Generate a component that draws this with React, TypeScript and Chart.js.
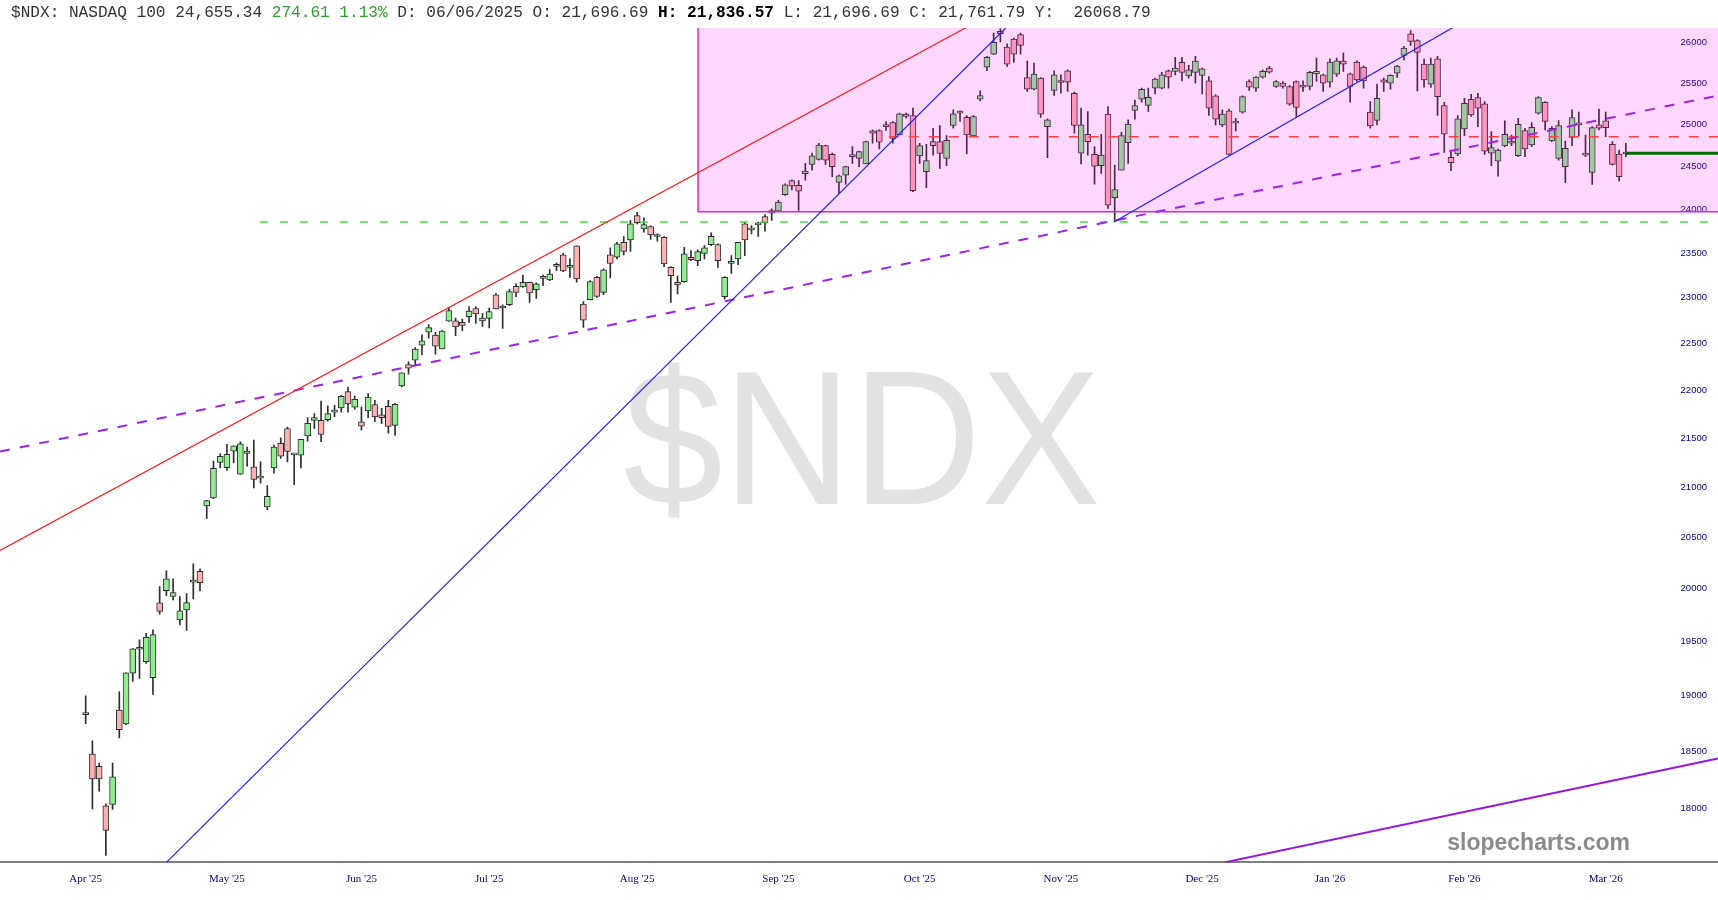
import React, { useEffect, useRef } from "react";
import { Chart, registerables } from "chart.js";

Chart.register(...registerables);

// ---------- Candle data (daily, index 0 = first bar on the chart) ----------
const open = [
  18826, 18471, 18364, 18019, 18031, 18866, 18742, 19205, 19426, 19310,
  19162, 19865, 19980, 19925, 19702, 19798, 20063, 20167, 20811, 20891,
  21251, 21199, 21367, 21132, 21343, 21206, 21091, 20801, 21195, 21446,
  21601, 21329, 21326, 21524, 21685, 21685, 21692, 21772, 21815, 21987,
  21822, 21671, 21783, 21850, 21744, 21832, 21633, 22047, 22274, 22321,
  22483, 22625, 22593, 22443, 22745, 22748, 22730, 22792, 22883, 22748,
  22773, 23035, 22888, 22924, 23128, 23121, 23173, 23091, 23216, 23198,
  23351, 23480, 23340, 23582, 22932, 22979, 23228, 23061, 23480, 23453,
  23623, 23650, 23928, 23776, 23802, 23688, 23680, 23340, 23173, 23180,
  23453, 23415, 23498, 23597, 23597, 23012, 23384, 23435, 23833, 23764,
  23822, 23917, 23955, 23978, 24169, 24335, 24277, 24414, 24524, 24583,
  24746, 24643, 24312, 24397, 24615, 24595, 24528, 24922, 24926, 24973,
  25022, 24873, 25123, 25107, 24624, 24438, 24794, 24794, 24595, 24986,
  25135, 25086, 24861, 25304, 25697, 25859, 26143, 25946, 26046, 26101,
  25570, 25426, 25561, 24973, 25411, 25508, 25652, 25377, 24656, 24882,
  24643, 24509, 25123, 24134, 24457, 24782, 25167, 25304, 25228, 25439,
  25439, 25652, 25644, 25755, 25590, 25632, 25595, 25528, 25344, 24993,
  25163, 25014, 25147, 25520, 25439, 25574, 25685, 25459, 25500, 25459,
  25520, 25467, 25459, 25615, 25602, 25512, 25611, 25771, 25615, 25759,
  25697, 25147, 25046, 25540, 25500, 25624, 25842, 26113, 26026, 25734,
  25488, 25800, 25228, 24607, 24647, 24945, 25304, 25324, 25247, 24656,
  24563, 24741, 24774, 24628, 24926, 24753, 25135, 25267, 24801, 24595,
  24497, 24845, 24993, 24656, 24430, 24993, 25042, 24762, 24647, 24647,
];
const high = [
  18997, 18589, 18393, 18036, 18393, 19034, 19208, 19432, 19514, 19576,
  19608, 20021, 20173, 20096, 19925, 19954, 20241, 20193, 20868, 21264,
  21339, 21436, 21421, 21463, 21408, 21481, 21257, 21016, 21429, 21504,
  21615, 21339, 21488, 21713, 21755, 21888, 21836, 21843, 21948, 22036,
  21941, 21825, 21965, 21895, 21811, 21895, 21864, 22185, 22303, 22457,
  22596, 22708, 22621, 22642, 22888, 22778, 22767, 22905, 22905, 22828,
  22888, 23050, 22924, 23094, 23155, 23254, 23173, 23166, 23254, 23314,
  23389, 23498, 23435, 23582, 22960, 23191, 23239, 23322, 23559, 23623,
  23688, 23871, 23966, 23902, 23810, 23719, 23688, 23348, 23246, 23566,
  23528, 23536, 23585, 23730, 23605, 23236, 23472, 23623, 23852, 23813,
  23852, 23940, 24005, 24103, 24297, 24343, 24335, 24536, 24656, 24774,
  24753, 24656, 24397, 24504, 24734, 24681, 24801, 24933, 24933, 25034,
  25034, 25135, 25135, 25195, 24774, 24762, 24953, 24986, 24865, 25175,
  25163, 25107, 25107, 25405, 25830, 26122, 26176, 25988, 26059, 26122,
  25771, 25747, 25570, 25066, 25652, 25602, 25664, 25390, 25195, 25155,
  24734, 24882, 25215, 24516, 24906, 25054, 25295, 25439, 25439, 25561,
  25632, 25664, 25818, 25818, 25718, 25830, 25685, 25582, 25357, 25175,
  25183, 25074, 25344, 25540, 25582, 25664, 25706, 25533, 25520, 25471,
  25528, 25528, 25644, 25809, 25611, 25800, 25809, 25872, 25624, 25775,
  25713, 25276, 25488, 25561, 25602, 25718, 25956, 26151, 26039, 25797,
  25809, 25830, 25267, 24666, 25107, 25316, 25365, 25377, 25276, 24914,
  24706, 25042, 24873, 25074, 24953, 25022, 25336, 25276, 24973, 25046,
  24801, 25175, 25147, 24873, 24973, 25183, 25147, 24794, 24694, 24774,
];
const low = [
  18745, 17992, 18145, 17593, 17987, 18616, 18733, 19128, 19156, 19295,
  19009, 19756, 19934, 19893, 19655, 19602, 19903, 19980, 20688, 20885,
  21195, 21169, 21247, 21129, 21213, 20992, 21040, 20775, 21141, 21292,
  21257, 21026, 21195, 21470, 21601, 21463, 21678, 21723, 21772, 21772,
  21801, 21584, 21713, 21671, 21650, 21553, 21529, 22039, 22171, 22260,
  22378, 22560, 22386, 22443, 22741, 22585, 22639, 22730, 22719, 22686,
  22669, 22877, 22664, 22913, 23012, 23117, 22949, 22993, 23136, 23191,
  23303, 23291, 23228, 23173, 22675, 22976, 23004, 23035, 23221, 23435,
  23480, 23520, 23833, 23737, 23654, 23634, 23348, 22949, 23043, 23173,
  23415, 23359, 23435, 23585, 23340, 22987, 23272, 23370, 23472, 23719,
  23688, 23748, 23871, 23971, 24161, 24226, 23986, 24339, 24457, 24575,
  24524, 24379, 24184, 24289, 24536, 24497, 24528, 24774, 24706, 24926,
  24774, 24873, 25074, 24203, 24536, 24250, 24634, 24477, 24509, 24953,
  25034, 24647, 24854, 25283, 25652, 25851, 26009, 25706, 25755, 25859,
  25398, 25417, 25083, 24604, 25349, 25377, 25398, 24894, 24528, 24634,
  24292, 24418, 24009, 23855, 24457, 24536, 25062, 25267, 25155, 25369,
  25430, 25439, 25602, 25528, 25561, 25500, 25369, 25107, 24993, 24973,
  24634, 24922, 25135, 25411, 25398, 25561, 25624, 25447, 25439, 25228,
  25095, 25398, 25417, 25520, 25398, 25451, 25582, 25644, 25267, 25520,
  25439, 24953, 24993, 25398, 25426, 25570, 25787, 25968, 25405, 25451,
  25447, 25107, 24666, 24450, 24628, 24865, 25095, 24973, 24643, 24509,
  24386, 24734, 24746, 24615, 24615, 24734, 25123, 24933, 24794, 24575,
  24312, 24746, 24861, 24615, 24289, 24933, 24854, 24516, 24327, 24615,
];
const close = [
  18826, 18252, 18252, 17806, 18272, 18691, 19208, 19430, 19426, 19539,
  19564, 19782, 20096, 19963, 19789, 19867, 20063, 20057, 20865, 21192,
  21313, 21333, 21421, 21442, 21367, 21078, 21108, 20909, 21408, 21316,
  21364, 21329, 21488, 21654, 21713, 21539, 21755, 21790, 21937, 21857,
  21906, 21626, 21930, 21720, 21713, 21622, 21854, 22185, 22235, 22440,
  22530, 22675, 22472, 22636, 22861, 22680, 22697, 22855, 22822, 22778,
  22850, 22877, 22888, 23069, 23061, 23173, 23054, 23155, 23216, 23265,
  23351, 23299, 23340, 23210, 22756, 23182, 23015, 23311, 23384, 23605,
  23520, 23833, 23845, 23825, 23707, 23707, 23378, 23246, 23144, 23491,
  23427, 23517, 23559, 23691, 23415, 23228, 23407, 23623, 23650, 23764,
  23833, 23845, 23986, 24083, 24285, 24269, 24210, 24445, 24624, 24753,
  24575, 24497, 24390, 24497, 24615, 24674, 24794, 24894, 24786, 24973,
  24833, 25127, 25095, 24215, 24746, 24568, 24746, 24652, 24809, 25127,
  25135, 24873, 25095, 25349, 25818, 26006, 26113, 25734, 25859, 25968,
  25426, 25611, 25123, 25054, 25602, 25528, 25512, 24986, 24993, 24794,
  24504, 24634, 24047, 24230, 24865, 25003, 25228, 25426, 25328, 25549,
  25602, 25574, 25685, 25632, 25664, 25771, 25676, 25195, 25062, 25123,
  24643, 25014, 25336, 25451, 25574, 25644, 25636, 25520, 25459, 25243,
  25204, 25451, 25632, 25644, 25500, 25759, 25775, 25734, 25459, 25541,
  25528, 24981, 25316, 25512, 25595, 25709, 25934, 26018, 25880, 25541,
  25734, 25336, 24882, 24544, 25066, 25255, 25115, 25195, 24681, 24722,
  24694, 24882, 24801, 25000, 24706, 24965, 25324, 25034, 24953, 24986,
  24714, 25083, 25014, 24634, 24961, 24953, 24961, 24524, 24379, 24655,
];

// ---------- Axis labels ----------
const monthLabels = ["Apr '25", "May '25", "Jun '25", "Jul '25", "Aug '25", "Sep '25",
  "Oct '25", "Nov '25", "Dec '25", "Jan '26", "Feb '26", "Mar '26"];
const monthTickIndex = [0, 21, 41, 60, 82, 103, 124, 145, 166, 185, 205, 226];
const priceTicks = [18000, 18500, 19000, 19500, 20000, 20500, 21000, 21500, 22000,
  22500, 23000, 23500, 24000, 24500, 25000, 25500, 26000];

// ---------- Drawn trend lines (bar index, price) ----------
const redTrendIdx = [-12.74, 132.2];
const redTrendPx = [20370, 26250];
const blueTrendIdx = [12.0, 137.4];
const blueTrendPx = [17535, 26235];
const blueTrend2Idx = [152.95, 204.36];
const blueTrend2Px = [23856, 26243];
const purpleDashIdx = [-12.74, 242.7];
const purpleDashPx = [21363, 25349];
const purpleSolidIdx = [169.3, 242.7];
const purpleSolidPx = [17535, 18432];
const greenDashIdx = [25.9, 241.5];
const greenDashPx = [23855, 23855];
const redDashIdx = [119.4, 242.7];
const redDashPx = [24851, 24851];
const lastPriceIdx = [229, 243];
const lastPricePx = [24655.34, 24655.34];
const zoneStartIdx = 91.05;
const zoneFloor = 23971;

const X_MIN = -12.74;
const X_MAX = 242.7;
const Y_MIN = 17535;
const Y_MAX = 26185;

const pts = (xs: number[], ys: number[]) => xs.map((x, i) => ({ x, y: ys[i] }));

const decorPlugin = {
  id: "decor",
  beforeDatasetsDraw(chart: any) {
    const ctx = chart.ctx;
    ctx.save();
    ctx.translate(862, 504);
    ctx.scale(1, 1.07);
    ctx.font = '179px "Liberation Sans"';
    ctx.fillStyle = "#e2e2e2";
    ctx.textAlign = "center";
    ctx.textBaseline = "alphabetic";
    ctx.fillText("$NDX", 0, 0);
    ctx.restore();
  },
  afterDatasetDraw(chart: any, args: any) {
    if (args.index !== 1) return;
    const { ctx, chartArea, scales } = chart;
    const x0 = scales.x.getPixelForValue(zoneStartIdx);
    const y1 = scales.y.getPixelForValue(zoneFloor);
    ctx.save();
    ctx.fillStyle = "rgba(255,0,255,0.155)";
    ctx.fillRect(x0, chartArea.top, chartArea.right - x0, y1 - chartArea.top);
    ctx.strokeStyle = "#dd22dd";
    ctx.lineWidth = 1.5;
    ctx.beginPath();
    ctx.moveTo(x0, chartArea.top);
    ctx.lineTo(x0, y1);
    ctx.lineTo(chartArea.right, y1);
    ctx.stroke();
    ctx.restore();
  },
  afterDraw(chart: any) {
    const ctx = chart.ctx;
    ctx.save();
    ctx.font = 'bold 23px "Liberation Sans"';
    ctx.fillStyle = "#8a8a8a";
    ctx.textAlign = "right";
    ctx.textBaseline = "alphabetic";
    ctx.fillText("slopecharts.com", 1630, 850);
    ctx.restore();
  },
};

export default function App() {
  const ref = useRef<HTMLCanvasElement | null>(null);

  useEffect(() => {
    if (!ref.current) return;
    const idx = open.map((_, i) => i);
    const up = "#90ee90";
    const down = "#ffb0b0";
    const bodyColors = idx.map((i) => (close[i] >= open[i] ? up : down));

    const lineDs = (label: string, xs: number[], ys: number[], color: string, width: number, dash: number[] = []) => ({
      type: "line" as const,
      label,
      data: pts(xs, ys),
      borderColor: color,
      borderWidth: width,
      borderDash: dash,
      pointRadius: 0,
      fill: false,
      tension: 0,
      order: 1,
    });

    const chart = new Chart(ref.current, {
      type: "bar",
      data: {
        datasets: [
          {
            label: "wicks",
            data: idx.map((i) => ({ x: i, y: [low[i], high[i]] })) as any,
            backgroundColor: "#2e2e2e",
            borderWidth: 0,
            barThickness: 1,
            grouped: false,
            order: 3,
          } as any,
          {
            label: "bodies",
            data: idx.map((i) => ({ x: i, y: [open[i], close[i]] })) as any,
            backgroundColor: bodyColors,
            borderColor: "#2b2b2b",
            borderWidth: 1,
            borderSkipped: false,
            barThickness: 6,
            minBarLength: 2,
            grouped: false,
            order: 2,
          } as any,
          lineDs("red trend", redTrendIdx, redTrendPx, "#ff1a1a", 1.2),
          lineDs("blue trend", blueTrendIdx, blueTrendPx, "#1f1fff", 1.2),
          lineDs("blue trend 2", blueTrend2Idx, blueTrend2Px, "#1f1fff", 1.2),
          lineDs("purple channel", purpleDashIdx, purpleDashPx, "#a020f0", 2, [10, 10]),
          lineDs("purple support", purpleSolidIdx, purpleSolidPx, "#9a10dc", 2),
          lineDs("green level", greenDashIdx, greenDashPx, "#40dd40", 1.5, [8, 12]),
          lineDs("red level", redDashIdx, redDashPx, "#ff4040", 1.5, [10, 10]),
          lineDs("last", lastPriceIdx, lastPricePx, "#006a00", 3),
        ] as any,
      },
      options: {
        animation: false,
        responsive: false,
        devicePixelRatio: 1,
        events: [],
        layout: { padding: { top: 28, bottom: 3.6, left: 0, right: 0 } },
        plugins: {
          legend: { display: false },
          tooltip: { enabled: false },
        },
        scales: {
          x: {
            type: "linear",
            min: X_MIN,
            max: X_MAX,
            bounds: "data",
            offset: false,
            grid: { display: false, drawTicks: false },
            border: { display: true, color: "#808080", width: 2 },
            afterBuildTicks: (s: any) => {
              s.ticks = monthTickIndex.map((v) => ({ value: v }));
            },
            ticks: {
              autoSkip: false,
              maxRotation: 0,
              minRotation: 0,
              padding: 10.4,
              color: "#000080",
              font: { family: "Liberation Serif", size: 11 },
              callback: (v: any) => {
                const k = monthTickIndex.indexOf(Number(v));
                return k >= 0 ? monthLabels[k] : "";
              },
            },
          },
          y: {
            type: "logarithmic",
            position: "right",
            min: Y_MIN,
            max: Y_MAX,
            bounds: "data",
            grid: { display: false, drawTicks: false },
            border: { display: false },
            afterBuildTicks: (s: any) => {
              s.ticks = priceTicks.map((v) => ({ value: v }));
            },
            ticks: {
              mirror: true,
              padding: -11,
              autoSkip: false,
              color: "#000080",
              font: { family: "Liberation Sans", size: 9.5 },
              callback: (v: any) => String(v),
            },
          },
        } as any,
      },
      plugins: [decorPlugin as any],
    });
    return () => chart.destroy();
  }, []);

  const mono = '"Liberation Mono", "DejaVu Sans Mono", monospace';
  return (
    <div style={{ position: "absolute", left: 0, top: 0, width: 1718, height: 900, background: "#fff" }}>
      <canvas ref={ref} width={1718} height={900} style={{ display: "block", width: 1718, height: 900 }} />
      <div
        style={{
          position: "absolute",
          left: 11,
          top: 5,
          fontFamily: mono,
          fontSize: 16.1,
          lineHeight: "16px",
          color: "#333",
          whiteSpace: "pre",
        }}
      >
        <span>$NDX: NASDAQ 100 24,655.34 </span>
        <span style={{ color: "#2ca02c" }}>274.61 1.13%</span>
        <span> D: 06/06/2025 O: 21,696.69 </span>
        <span style={{ fontWeight: "bold", color: "#000" }}>H: 21,836.57</span>
        <span> L: 21,696.69 C: 21,761.79 Y:  26068.79</span>
      </div>
    </div>
  );
}
